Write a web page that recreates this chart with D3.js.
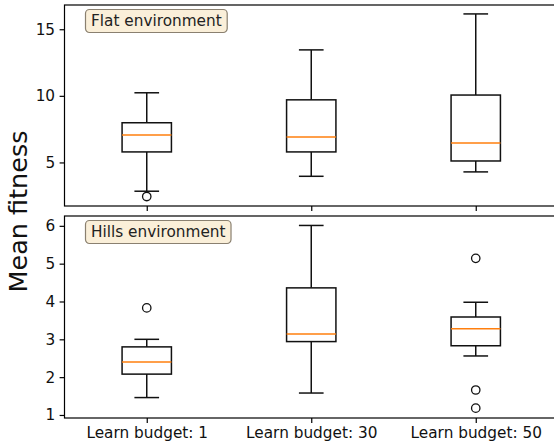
<!DOCTYPE html>
<html>
<head>
<meta charset="utf-8">
<script src="https://cdn.jsdelivr.net/npm/d3@7"></script>
<style>
  body { margin: 0; background: #fff; }
  text { font-family: "DejaVu Sans", sans-serif; }
</style>
</head>
<body>
<svg id="chart"></svg>
<script>
var categories = ["Learn budget: 1", "Learn budget: 30", "Learn budget: 50"];

// box stats: [whiskerLow, q1, median, q3, whiskerHigh]
var flatStats = [
  [2.84, 5.79, 7.06, 7.98, 10.23],
  [3.96, 5.79, 6.91, 9.70, 13.45],
  [4.29, 5.11, 6.46, 10.06, 16.15]
];
var flatFliers = [[2.44], [], []];
var flatTicks = [5, 10, 15];

var hillsStats = [
  [1.46, 2.08, 2.40, 2.80, 3.00],
  [1.58, 2.94, 3.14, 4.36, 6.01],
  [2.56, 2.83, 3.28, 3.59, 3.98]
];
var hillsFliers = [[3.83], [], [5.14, 1.66, 1.18]];
var hillsTicks = [1, 2, 3, 4, 5, 6];

var panels = [
  { label: "Flat environment", stats: flatStats, fliers: flatFliers, ticks: flatTicks,
    domain: [1.73, 16.82], top: 5, bottom: 206, showLabels: false },
  { label: "Hills environment", stats: hillsStats, fliers: hillsFliers, ticks: hillsTicks,
    domain: [0.92, 6.26], top: 216, bottom: 418, showLabels: true }
];

function main() {
  var svgWidth = 554;
  var svgHeight = 446;
  var left = 64.5;
  var right = 558;
  var fontSize = 15.3;
  var svg = d3.select("#chart").attr("width", svgWidth).attr("height", svgHeight);

  var x = d3.scaleLinear().domain([0.5, 3.5]).range([left, right]);
  var boxW = x(0.3) - x(0);
  var capW = x(0.15) - x(0);

  panels.forEach(function (p) {
    var y = d3.scaleLinear().domain(p.domain).range([p.bottom, p.top]);
    var g = svg.append("g");

    // frame
    g.append("rect")
      .attr("x", left).attr("y", p.top)
      .attr("width", right - left).attr("height", p.bottom - p.top)
      .attr("fill", "none").attr("stroke", "#000").attr("stroke-width", 1.2);

    // y axis
    var yAxis = d3.axisLeft(y).tickValues(p.ticks).tickSize(4.9).tickPadding(4.5)
      .tickFormat(d3.format("d"));
    var ya = g.append("g").attr("transform", "translate(" + left + ",0)").call(yAxis);
    ya.select(".domain").remove();
    ya.selectAll("line").attr("stroke-width", 1.2);
    ya.selectAll("text").attr("font-size", fontSize).attr("fill", "#111")
      .attr("font-family", "DejaVu Sans, sans-serif");

    // x axis
    var xAxis = d3.axisBottom(x).tickValues([1, 2, 3]).tickSize(4.9).tickPadding(4.5)
      .tickFormat(function (d) { return p.showLabels ? categories[d - 1] : ""; });
    var xa = g.append("g").attr("transform", "translate(0," + p.bottom + ")").call(xAxis);
    xa.select(".domain").remove();
    xa.selectAll("line").attr("stroke-width", 1.2);
    xa.selectAll("text").attr("font-size", fontSize).attr("fill", "#111")
      .attr("font-family", "DejaVu Sans, sans-serif");

    // boxes
    var boxes = g.append("g").selectAll("g").data(p.stats).enter().append("g");
    boxes.each(function (s, i) {
      var b = d3.select(this);
      var cx = x(i + 1);
      // whiskers
      b.append("line").attr("x1", cx).attr("x2", cx)
        .attr("y1", y(s[0])).attr("y2", y(s[1]))
        .attr("stroke", "#111").attr("stroke-width", 1.5);
      b.append("line").attr("x1", cx).attr("x2", cx)
        .attr("y1", y(s[3])).attr("y2", y(s[4]))
        .attr("stroke", "#111").attr("stroke-width", 1.5);
      // caps
      [s[0], s[4]].forEach(function (v) {
        b.append("line").attr("x1", cx - capW / 2).attr("x2", cx + capW / 2)
          .attr("y1", y(v)).attr("y2", y(v))
          .attr("stroke", "#111").attr("stroke-width", 1.5);
      });
      // box
      b.append("rect").attr("x", cx - boxW / 2).attr("width", boxW)
        .attr("y", y(s[3])).attr("height", y(s[1]) - y(s[3]))
        .attr("fill", "none").attr("stroke", "#111").attr("stroke-width", 1.5);
      // median
      b.append("line").attr("x1", cx - boxW / 2).attr("x2", cx + boxW / 2)
        .attr("y1", y(s[2])).attr("y2", y(s[2]))
        .attr("stroke", "#ff7f0e").attr("stroke-width", 1.5);
      // fliers
      b.selectAll("circle").data(p.fliers[i]).enter().append("circle")
        .attr("cx", cx).attr("cy", function (d) { return y(d); })
        .attr("r", 4.2).attr("fill", "none")
        .attr("stroke", "#111").attr("stroke-width", 1.3);
    });

    // annotation box
    var ann = g.append("g").attr("transform", "translate(91," + (p.top + 21) + ")");
    var t = ann.append("text").text(p.label).attr("font-size", fontSize).attr("fill", "#222");
    var bb = t.node().getBBox();
    ann.insert("rect", "text")
      .attr("x", bb.x - 5.5).attr("y", bb.y - 2.5)
      .attr("width", bb.width + 11).attr("height", bb.height + 5)
      .attr("rx", 4).attr("ry", 4)
      .attr("fill", "#faefd9").attr("stroke", "#8a8070").attr("stroke-width", 1.2);
  });

  // y label
  svg.append("text")
    .attr("transform", "translate(27," + ((5 + 418) / 2) + ") rotate(-90)")
    .attr("text-anchor", "middle")
    .attr("font-size", 25.5)
    .attr("fill", "#111")
    .text("Mean fitness");
}
main();
</script>
</body>
</html>
